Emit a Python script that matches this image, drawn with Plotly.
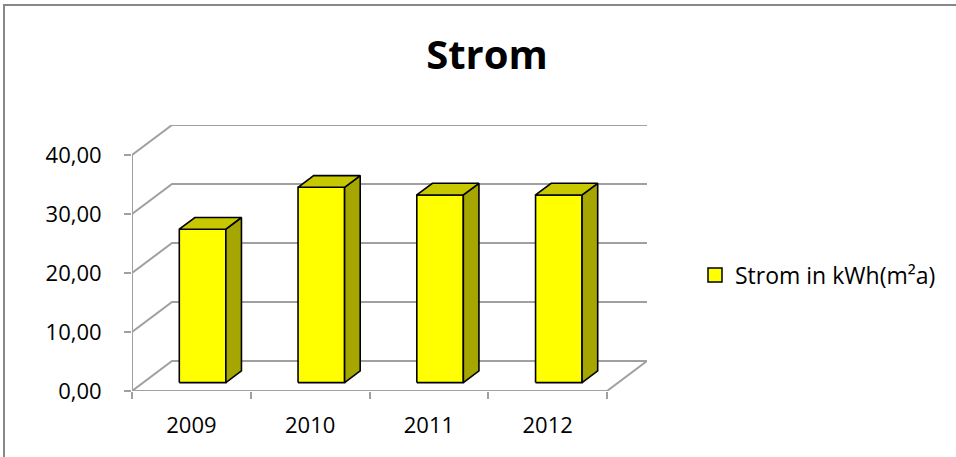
import plotly.graph_objects as go

# ---- data ----
categories = ["2009", "2010", "2011", "2012"]
values = [26.0, 33.1, 31.8, 31.8]
y_ticks = [0, 10, 20, 30, 40]
series_name = "Strom in kWh(m²a)"
title = "Strom"

# ---- pseudo-3D geometry (style) ----
DX = 40 / 118.75      # depth offset in category units
DY = 30 / 5.898       # depth offset in value units
HALF_W = 0.196        # half bar width
D0, D1 = 0.28, 0.67   # bar front/back depth fractions
GRID = "#A0A0A0"
FRONT, TOP, SIDE = "#FFFF00", "#C8C800", "#A6A600"
FONT = "Open Sans"

n = len(categories)
xs = list(range(n))
x_lo, x_hi = -0.5, n - 0.5
ymax = max(y_ticks)


def P(x, y, d):
    return x + d * DX, y + d * DY


fig = go.Figure()

# gridlines (back wall + side wall)
gx, gy = [], []
for v in y_ticks:
    a = P(x_lo, v, 0); b = P(x_lo, v, 1); c = P(x_hi, v, 1)
    gx += [a[0], b[0], c[0], None]
    gy += [a[1], b[1], c[1], None]
# floor right edge and front edge, vertical axis line
f1 = P(x_hi, 0, 0); f2 = P(x_hi, 0, 1)
gx += [f1[0], f2[0], None, x_lo, x_hi, None, x_lo, x_lo]
gy += [f1[1], f2[1], None, 0, 0, None, 0, ymax]
fig.add_trace(go.Scatter(x=gx, y=gy, mode="lines", line=dict(color=GRID, width=2),
                         hoverinfo="skip", showlegend=False))

# bars
for xi, v in zip(xs, values):
    l, r = xi - HALF_W, xi + HALF_W
    faces = [
        ([P(l, 0, D0), P(r, 0, D0), P(r, v, D0), P(l, v, D0)], FRONT),
        ([P(r, 0, D0), P(r, 0, D1), P(r, v, D1), P(r, v, D0)], SIDE),
        ([P(l, v, D0), P(r, v, D0), P(r, v, D1), P(l, v, D1)], TOP),
    ]
    for pts, col in faces:
        px = [p[0] for p in pts] + [pts[0][0]]
        py = [p[1] for p in pts] + [pts[0][1]]
        fig.add_trace(go.Scatter(x=px, y=py, mode="lines", fill="toself", fillcolor=col,
                                 line=dict(color="black", width=1.6),
                                 hoverinfo="skip", showlegend=False))

# legend entry
fig.add_trace(go.Scatter(x=[None], y=[None], mode="markers", name=series_name,
                         marker=dict(symbol="square", size=14, color=FRONT,
                                     line=dict(color="black", width=1.5)),
                         showlegend=True))

L, T = 132, 125
PW = 515
PH = 266
fig.update_layout(
    width=956, height=457,
    margin=dict(l=L, r=956 - L - PW, t=T, b=457 - T - PH, autoexpand=False),
    paper_bgcolor="white", plot_bgcolor="white",
    separators=",.",
    font=dict(family=FONT, color="black", size=22),
    title=dict(text="<b>" + title + "</b>", x=487 / 956, xanchor="center",
               y=1 - 55 / 457, yanchor="middle", xref="container", yref="container",
               font=dict(family=FONT, size=40, color="black")),
    xaxis=dict(range=[x_lo, x_hi + DX], tickvals=xs, ticktext=categories,
               ticks="", showgrid=False, zeroline=False, showline=False,
               tickfont=dict(size=22), ticklabelstandoff=19,
               minor=dict(tickvals=[x + 0.5 for x in [-1] + xs], ticks="outside",
                          ticklen=7, tickcolor=GRID, tickwidth=2, showgrid=False)),
    yaxis=dict(range=[0, ymax + DY], tickvals=y_ticks, tickformat=".2f",
               ticks="outside", ticklen=7, tickcolor=GRID, tickwidth=2,
               showgrid=False, zeroline=False, showline=False,
               tickfont=dict(size=22), ticklabelstandoff=18),
    legend=dict(x=(695 - L) / PW, xanchor="left", y=(T + PH - 275) / PH, yanchor="middle",
                font=dict(size=23), bgcolor="rgba(0,0,0,0)"),
    shapes=[dict(type="rect", xref="paper", yref="paper",
                 x0=(4 - L) / PW, x1=3, y0=-2, y1=(T + PH - 5) / PH,
                 line=dict(color="#878787", width=2), fillcolor="rgba(0,0,0,0)", layer="below")],
)

fig.write_html("out.html", config={"displayModeBar": False},
               post_script="document.body.style.margin='0';document.body.style.overflow='hidden';")
